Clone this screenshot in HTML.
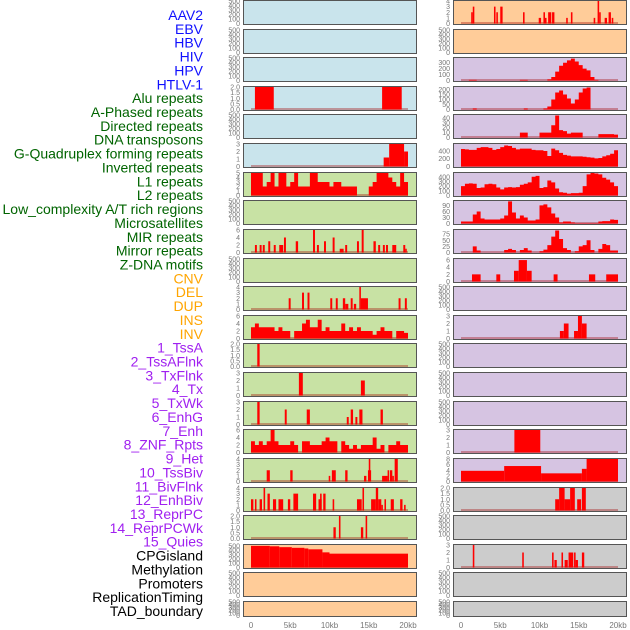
<!DOCTYPE html>
<html><head><meta charset="utf-8"><style>
html,body{margin:0;padding:0;background:#fff;}
svg{display:block;font-family:"Liberation Sans",sans-serif;}
</style></head><body>
<svg id="chart" width="630" height="630" viewBox="0 0 630 630" xmlns="http://www.w3.org/2000/svg"></svg>
<script>
// ---- labels ----
const trackLabels = ["AAV2","EBV","HBV","HIV","HPV","HTLV-1","Alu repeats","A-Phased repeats","Directed repeats","DNA transposons","G-Quadruplex forming repeats","Inverted repeats","L1 repeats","L2 repeats","Low_complexity A/T rich regions","Microsatellites","MIR repeats","Mirror repeats","Z-DNA motifs","CNV","DEL","DUP","INS","INV","1_TssA","2_TssAFlnk","3_TxFlnk","4_Tx","5_TxWk","6_EnhG","7_Enh","8_ZNF_Rpts","9_Het","10_TssBiv","11_BivFlnk","12_EnhBiv","13_ReprPC","14_ReprPCWk","15_Quies","CPGisland","Methylation","Promoters","ReplicationTiming","TAD_boundary"];
const xTicks = [0,5000,10000,15000,20000];
const xTickLabels = ["0","5kb","10kb","15kb","20kb"];

// ---- y tick sets ----
const T500 = [0,100,200,300,400,500];
const T2 = [0,0.5,1,1.5,2];
const T3 = [0,1,2,3];
const T4 = [0,1,2,3,4];
const T5 = [0,1,2,3,4,5];
const T6 = [0,2,4,6];
const T8 = [0,2,4,6,8];
const T300 = [0,100,200,300];
const T200 = [0,50,100,150,200];
const T40 = [0,10,20,30,40];
const T400b = [0,200,400];
const T400 = [0,100,200,300,400];
const T90 = [0,30,60,90];
const T75 = [0,25,50,75];

// ---- column 1 data (segments: [startKb,endKb,value]; profiles: 0.5kb bins) ----
const c1r3 = [[0.5,2.9,2],[16.7,19.2,2]];
const c1r5 = [[16.9,17.6,1.2],[17.6,19.5,3],[19.5,20,2]];
const c1r6 = [5,5,5,2,3,5,2,5,5,2,3,5,2,2,2,5,5,3,3,3,2,3,3,2,2,2,2,0,0,0,2,3,5,5,5,4,3,2,5,3];
const c1r8 = [[0.5,0.75,2],[1.1,1.35,2],[1.5,1.75,2],[2.2,2.45,3],[2.9,3.15,2],[3.6,4.1,2],[4.2,4.45,4],[5.7,6.0,3],[7.9,8.15,6],[8.4,8.65,2],[9.3,9.55,3],[10.4,10.65,4],[11.3,11.8,1],[12.0,12.25,2],[13.5,13.75,3],[14.1,14.35,6],[15.6,15.9,3],[16.2,16.45,2],[16.8,17.05,2],[17.2,17.45,2],[18.0,18.5,2],[19.4,19.65,2],[19.65,19.8,1]];
const c1r10 = [[4.8,5.05,2],[6.5,6.75,3],[7.2,7.45,3],[10.1,10.35,2],[10.8,11.05,2],[11.7,12.0,2],[12.0,12.4,1],[12.7,12.95,2],[13.1,13.4,1],[13.8,14.0,4],[14.0,14.9,2],[18.8,19.05,2],[19.6,19.85,2]];
const c1r11 = [3,4,3,3,3,3,2,3,2,2,0,2,2,4,5,3,3,5,2,3,2,2,2,4,2,3,2,3,2,2,2,1,2,3,2,2,0,2,2,1.5];
const c1r12 = [[0.8,1.1,2]];
const c1r13 = [[6.1,6.6,3],[14.0,14.5,2]];
const c1r14 = [[0.8,1.1,3],[4.3,4.55,2],[7.1,7.5,2],[12.2,12.45,1],[12.7,13.0,2],[13.3,13.55,1],[13.8,14.2,2],[16.5,16.8,2]];
const c1r15 = [3,2,3,2,3,6,3,2,2,2,3,2,0,3,3,2,2,2,3,4,3,3,0,3,2,1,2,1,2,2,2,4,1,2,0,2,2,3,2,2];
const c1r16 = [[2.0,2.4,2],[5.0,5.3,2],[9.9,10.1,1],[10.3,10.8,2],[12.0,12.3,2],[14.4,14.7,1],[14.9,15.3,2],[15.0,15.2,4],[16.7,17.4,1],[17.4,17.6,2],[17.7,18.0,2],[18.0,18.2,1],[18.3,18.7,4]];
const c1r17 = [[0,0.3,2],[0.5,0.7,2],[1.1,1.4,2],[1.6,1.8,4],[2.1,2.4,3],[2.8,3.2,2],[3.5,4.1,2],[4.7,5.0,2],[5.4,6.0,3],[7.9,8.3,3],[8.6,9.0,2],[8.8,9.0,3],[9.2,9.5,3],[10.4,10.6,2],[13.5,14.1,2],[14.2,14.4,4],[15.3,15.9,2],[15.9,16.2,4],[16.2,16.6,2],[16.6,16.8,1],[17.0,17.2,2],[17.8,18.2,2],[19.0,19.3,2],[19.5,19.7,1]];
const c1r18 = [[10.5,10.8,1],[11.2,11.4,2],[14.0,14.3,1],[14.6,14.8,2]];
const c1r19 = [[0,2.4,500],[2.4,3.6,490],[3.6,5.2,470],[5.2,6.8,455],[6.8,7.3,440],[7.3,9.1,420],[9.1,10,350],[10,20,320]];

// ---- column 2 data ----
const c2r0 = [[1.3,1.5,2],[1.5,1.7,3],[4.2,4.4,3],[4.5,4.7,2],[5.0,5.3,3],[7.9,8.1,2],[9.9,10.2,1],[10.5,10.7,2],[10.7,10.9,1],[11.1,11.5,2],[11.6,11.9,2],[13.4,13.6,1],[14.0,14.2,2],[16.9,17.1,1],[17.4,17.6,4],[17.6,17.8,2],[18.3,18.6,1],[18.8,19.1,2],[19.2,19.4,1]];
const c2r2 = [0,0,10,10,0,0,0,0,0,0,0,0,0,0,0,10,10,0,0,0,0,0,20,60,150,250,300,340,370,320,260,200,170,60,10,0,0,0,0,0];
const c2r3 = [0,0,0,10,0,0,0,0,0,0,0,0,0,0,0,0,10,0,0,0,0,10,30,100,170,190,150,110,60,100,170,210,220,0,0,0,0,0,0,0];
const c2r4 = [0,0,0,0,0,0,0,0,0,0,0,0,0,0,0,10,10,0,0,0,10,10,10,25,45,15,13,8,10,10,10,0,0,0,0,7,7,7,7,6];
const c2r5 = [450,440,430,430,480,500,500,480,430,450,500,540,530,480,440,460,460,460,430,420,420,400,270,460,420,350,300,280,260,260,260,250,240,230,210,220,260,290,330,420];
const c2r6 = [200,250,260,250,160,170,240,250,240,170,130,170,180,170,180,230,250,280,400,420,160,180,320,280,150,70,60,40,50,50,60,200,450,480,470,450,380,340,280,200];
const c2r7 = [10,10,10,45,60,25,20,20,20,20,25,40,110,55,25,40,30,15,15,20,90,95,80,50,30,5,10,10,5,2,2,2,2,2,2,10,12,12,20,18];
const c2r8 = [0,0,0,25,8,0,0,0,0,0,0,10,15,10,0,10,18,8,0,0,5,12,30,65,90,55,18,10,0,5,25,30,50,10,0,15,35,30,8,8];
const c2r9 = [[1.4,2.5,2],[4.5,5.0,2],[6.75,7.35,3],[7.35,8.4,6],[8.4,9.0,3],[11.8,12.3,2],[16.3,17.1,2],[18.5,20,2]];
const c2r11 = [[12.6,13.1,1],[13.1,13.7,2],[14.4,14.9,1],[14.9,15.4,3],[15.4,16.0,2]];
const c2r15 = [[6.8,10.1,3]];
const c2r16 = [[0,5.5,3.8],[5.5,10.2,5.5],[10.2,15.4,2.9],[15.4,16,4.5],[16,20,8]];
const c2r17 = [[12.0,12.5,1],[12.5,13.2,2],[13.2,13.9,1],[13.9,14.5,2],[14.8,15.3,1],[15.4,15.9,2]];
const c2r19 = [[1.5,1.7,3],[7.8,8.0,2],[11.6,11.8,2],[11.9,12.2,1],[12.8,13.0,2],[13.2,13.6,1],[13.7,14.3,2],[14.4,14.6,2],[14.6,14.9,1],[15.4,15.7,2]];

// ---- panel config: [data, ticks, max] ----
const BLUE="#c9e4ec", ORANGE="#ffcc99", PURPLE="#d6c4e2", GREEN="#c8e2a4", GRAY="#cccccc";
const col1 = [
 [null,T500,500,BLUE],[null,T500,500,BLUE],[null,T500,500,BLUE],[c1r3,T2,2,BLUE],[null,T500,500,BLUE],[c1r5,T3,3,BLUE],
 [c1r6,T5,5,GREEN],[null,T500,500,GREEN],[c1r8,T6,6,GREEN],[null,T500,500,GREEN],[c1r10,T4,4,GREEN],[c1r11,T6,6,GREEN],
 [c1r12,T2,2,GREEN],[c1r13,T3,3,GREEN],[c1r14,T3,3,GREEN],[c1r15,T6,6,GREEN],[c1r16,T4,4,GREEN],[c1r17,T4,4,GREEN],
 [c1r18,T2,2,GREEN],[c1r19,T500,520,ORANGE],[null,T500,500,ORANGE],[null,T500,500,ORANGE]];
const col2 = [
 [c2r0,T4,4,ORANGE],[null,T500,500,ORANGE],[c2r2,T300,380,PURPLE],[c2r3,T200,225,PURPLE],[c2r4,T40,46,PURPLE],[c2r5,T400b,580,PURPLE],
 [c2r6,T400,480,PURPLE],[c2r7,T90,112,PURPLE],[c2r8,T75,92,PURPLE],[c2r9,T6,6.3,PURPLE],[null,T500,500,PURPLE],[c2r11,T3,3,PURPLE],
 [null,T500,500,PURPLE],[null,T500,500,PURPLE],[null,T500,500,PURPLE],[c2r15,T3,3,PURPLE],[c2r16,T8,8,PURPLE],[c2r17,T2,2,GRAY],
 [null,T500,500,GRAY],[c2r19,T3,3,GRAY],[null,T500,500,GRAY],[null,T500,500,GRAY]];

const NS="http://www.w3.org/2000/svg";
const svg=document.getElementById('chart');
function mk(tag,attrs,parent){const e=document.createElementNS(NS,tag);for(const k in attrs)e.setAttribute(k,attrs[k]);(parent||svg).appendChild(e);return e;}

// left labels
const labelColors = i => i<6?"#1010ff":i<19?"#006400":i<24?"#ffa500":i<39?"#a020f0":"#000";
trackLabels.forEach((t,i)=>{
  const el=mk('text',{x:203,y:15+i*(596/43)+5,'text-anchor':'end','font-size':'14',fill:labelColors(i)});
  
  
  el.textContent=t;
});

const cols=[{x0:243,x1:416,dx0:251,dx1:408,tx:240,panels:col1},{x0:453,x1:626,dx0:461,dx1:618,tx:450,panels:col2}];
function rowTop(i){return Math.round(i*28.62);}
cols.forEach((c,ci)=>{
  const xs=kb=>c.dx0+(kb/20)*(c.dx1-c.dx0);
  c.panels.forEach((p,ri)=>{
    const [data,ticks,max,bg]=p;
    const T=rowTop(ri), H=(ri===21)?16:25;
    const bottom=T+H-1.5, top=T+1, ph=bottom-top;
    const ys=v=>bottom-(v/max)*ph;
    const g=mk('g',{});
    
    
    mk('rect',{x:c.x0+0.5,y:T+0.5,width:c.x1-c.x0,height:H-1,fill:bg,stroke:'#555','stroke-width':1},g);
    if(data){
      mk('rect',{x:xs(0),y:bottom-1.5,width:xs(20)-xs(0),height:2,fill:'rgba(160,0,0,0.35)'},g);
      if(typeof data[0]==='number'){
        let d='M'+xs(0)+','+bottom;
        data.forEach((v,k)=>{d+=' L'+xs(k*0.5)+','+ys(v)+' L'+xs(k*0.5+0.5)+','+ys(v);});
        d+=' L'+xs(20)+','+bottom+' Z';
        const pe=mk('path',{d:d,fill:'#ff0000'},g);
        
        
      } else {
        data.forEach(s=>{
          const r=mk('rect',{x:xs(s[0]),y:ys(s[2]),width:Math.max(1.5,xs(s[1])-xs(s[0])),height:bottom-ys(s[2]),fill:'#ff0000'},g);
          
          
        });
      }
    }
    const dec=ticks.some(t=>t%1!==0);
    ticks.forEach(t=>{
      const tl=mk('text',{x:c.tx,y:ys(t)+2.5,'text-anchor':'end','font-size':'7',fill:'#777'},g);
      
      
      tl.textContent=dec?t.toFixed(1):String(t);
    });
  });
  xTicks.forEach((t,k)=>{
    const xl=mk('text',{x:xs(t/1000),y:628,'text-anchor':'middle','font-size':'8',fill:'#777'});
    
    
    xl.textContent=xTickLabels[k];
  });
});
</script>
</body></html>
